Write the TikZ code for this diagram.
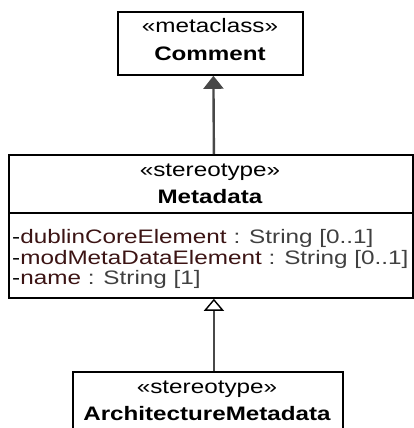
\documentclass[tikz,border=0pt]{standalone}
\usepackage{fontspec}
\setmainfont{Liberation Sans}[FakeStretch=1.245,BoldFeatures={FakeStretch=1.24}]
\usetikzlibrary{arrows.meta}
\definecolor{attrname}{HTML}{3C1414}
\definecolor{attrtype}{HTML}{404040}
\definecolor{conn}{HTML}{484848}
\tikzset{
  umlbox/.style={draw=black, line width=1.8pt, rectangle, inner sep=0pt, anchor=north west},
  stereo/.style={font=\fontsize{19.5}{21}\selectfont, inner sep=0pt, anchor=base},
  cname/.style={font=\fontsize{19.5}{21}\selectfont\bfseries, inner sep=0pt, anchor=base},
  attr/.style={font=\fontsize{19.5}{21}\selectfont, inner sep=0pt, anchor=base west},
  assoc/.style={draw=conn, line width=2.4pt, -{Triangle[width=20pt,length=13pt]}},
  gener/.style={draw=conn, line width=2.4pt, -{Triangle[open,width=20pt,length=12pt,line width=1.4pt,color=black]}},
}
\newcommand{\attrline}[2]{\textcolor{black}{-}\textcolor{attrname}{#1}\textcolor{attrtype}{\ : #2}}
\begin{document}
\begin{tikzpicture}[x=1pt,y=-1pt]
\useasboundingbox (0,0) rectangle (414,428);
\fill[white] (0,0) rectangle (414,428);
% Comment
\node[umlbox, minimum width=185pt, minimum height=63pt] (comment) at (117,11) {};
\node[stereo] (commentst) at (210,33) {«metaclass»};
\node[cname] (commentnm) at (210,60) {Comment};
% Metadata
\node[umlbox, minimum width=404pt, minimum height=143pt] (metadata) at (8,154) {};
\coordinate (divl) at (8,213);
\coordinate (divr) at (412,213);
\draw[line width=1.8pt] (divl) -- (divr);
\node[stereo] (metast) at (210,176) {«stereotype»};
\node[cname] (metanm) at (210,203) {Metadata};
\node[attr] (a1) at (12,243) {\attrline{dublinCoreElement}{String [0..1]}};
\node[attr] (a2) at (12,264) {\attrline{modMetaDataElement}{String [0..1]}};
\node[attr] (a3) at (12,284) {\attrline{name}{String [1]}};
% ArchitectureMetadata
\node[umlbox, minimum width=270pt, minimum height=80pt] (arch) at (72,371) {};
\node[stereo] (archst) at (207,393) {«stereotype»};
\node[cname] (archnm) at (207,420) {ArchitectureMetadata};
% connectors
\coordinate (gtop) at ([xshift=3pt]metadata.south);
\draw[assoc] ([xshift=3pt]metadata.north) -- ([xshift=3pt]comment.south);
\draw[gener] (arch.north -| gtop) -- (gtop);
\end{tikzpicture}
\end{document}
